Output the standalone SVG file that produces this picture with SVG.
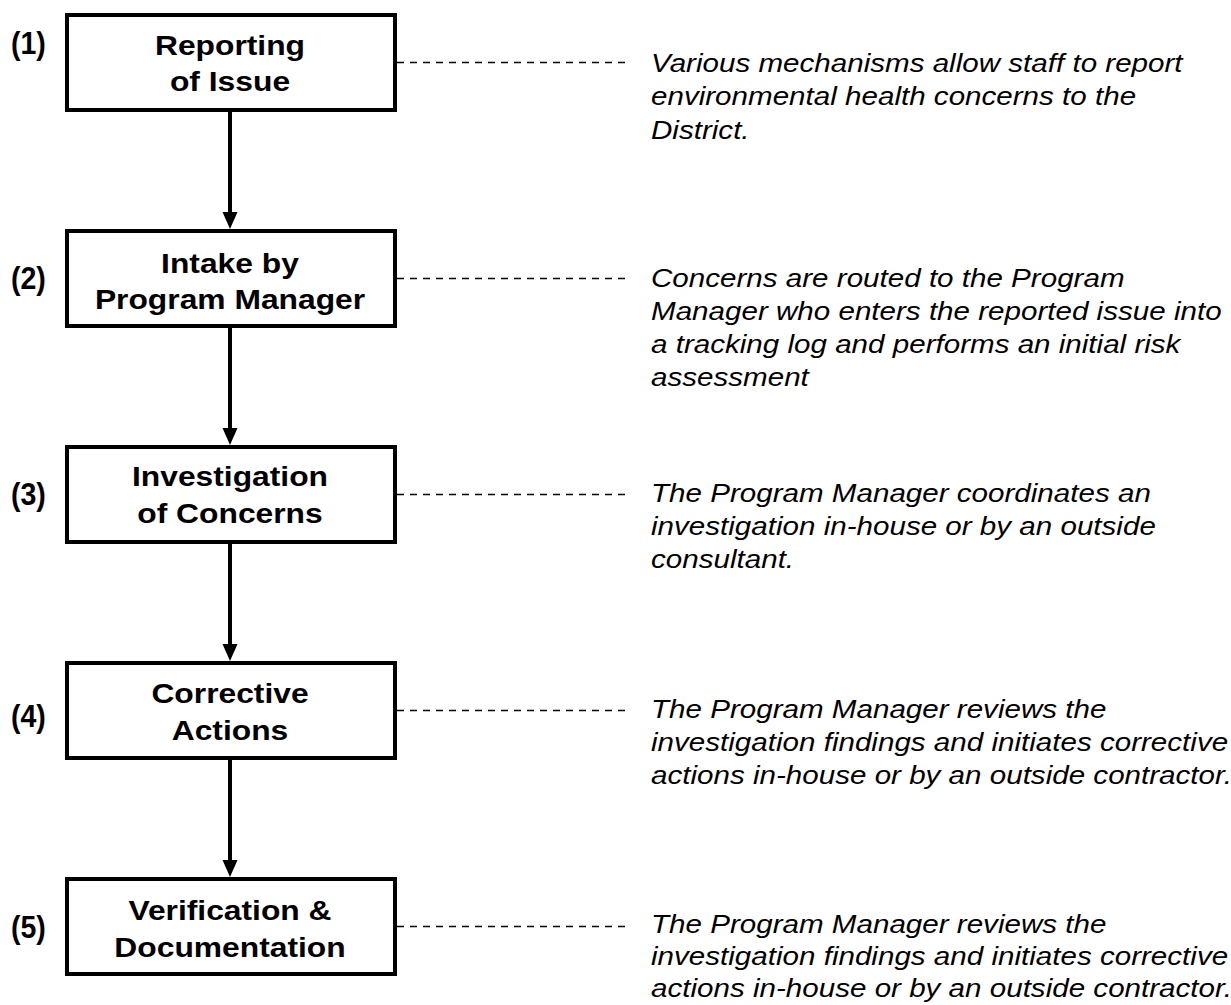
<svg xmlns="http://www.w3.org/2000/svg" width="1231" height="1005" viewBox="0 0 1231 1005">
<style>
.box{fill:#fff;stroke:#000;stroke-width:4}
.bt{font-family:"Liberation Sans",Arial,sans-serif;font-weight:bold;font-size:31.8px;fill:#000;text-anchor:middle}
.lb{font-family:"Liberation Sans",Arial,sans-serif;font-weight:bold;font-size:28.5px;fill:#000}
.ds{font-family:"Liberation Sans",Arial,sans-serif;font-style:italic;font-size:29.6px;fill:#000}
.dash{stroke:#000;stroke-width:1.3;stroke-dasharray:7 6;fill:none}
.arr{stroke:#000;stroke-width:4;fill:none}
</style>
<rect width="1231" height="1005" fill="#fff"/>
<g id="connectors">
<line class="arr" x1="230" y1="112" x2="230" y2="214"/>
<polygon points="222.5,212 237.5,212 230,229"/>
<line class="arr" x1="230" y1="328" x2="230" y2="430"/>
<polygon points="222.5,428 237.5,428 230,445"/>
<line class="arr" x1="230" y1="544" x2="230" y2="646"/>
<polygon points="222.5,644 237.5,644 230,661"/>
<line class="arr" x1="230" y1="760" x2="230" y2="862"/>
<polygon points="222.5,860 237.5,860 230,877"/>
<line class="dash" x1="397" y1="62.5" x2="630" y2="62.5"/>
<line class="dash" x1="397" y1="278.5" x2="630" y2="278.5"/>
<line class="dash" x1="397" y1="494.5" x2="630" y2="494.5"/>
<line class="dash" x1="397" y1="710.5" x2="630" y2="710.5"/>
<line class="dash" x1="397" y1="926.5" x2="630" y2="926.5"/>
</g>
<g id="node1">
<rect class="box" x="67" y="15" width="328" height="95"/>
<text class="bt" transform="translate(230,54.5) scale(1,0.86)">Reporting</text>
<text class="bt" transform="translate(230,90.5) scale(1,0.86)">of Issue</text>
<text class="lb" transform="translate(11,53.5) scale(1,1.08)">(1)</text>
<text class="ds" transform="translate(651,72) scale(1,0.9)">Various mechanisms allow staff to report</text>
<text class="ds" transform="translate(651,105) scale(1,0.9)">environmental health concerns to the</text>
<text class="ds" transform="translate(651,139) scale(1,0.9)">District.</text>
</g>
<g id="node2">
<rect class="box" x="67" y="231" width="328" height="95"/>
<text class="bt" transform="translate(230,272.5) scale(1,0.86)">Intake by</text>
<text class="bt" transform="translate(230,308.5) scale(1,0.86)">Program Manager</text>
<text class="lb" transform="translate(11,288.5) scale(1,1.08)">(2)</text>
<text class="ds" transform="translate(651,287) scale(1,0.9)">Concerns are routed to the Program</text>
<text class="ds" transform="translate(651,320) scale(1,0.9)">Manager who enters the reported issue into</text>
<text class="ds" transform="translate(651,353) scale(1,0.9)">a tracking log and performs an initial risk</text>
<text class="ds" transform="translate(651,386) scale(1,0.9)">assessment</text>
</g>
<g id="node3">
<rect class="box" x="67" y="447" width="328" height="95"/>
<text class="bt" transform="translate(230,486) scale(1,0.86)">Investigation</text>
<text class="bt" transform="translate(230,522.5) scale(1,0.86)">of Concerns</text>
<text class="lb" transform="translate(11,505) scale(1,1.08)">(3)</text>
<text class="ds" transform="translate(651,502) scale(1,0.9)">The Program Manager coordinates an</text>
<text class="ds" transform="translate(651,535) scale(1,0.9)">investigation in-house or by an outside</text>
<text class="ds" transform="translate(651,568) scale(1,0.9)">consultant.</text>
</g>
<g id="node4">
<rect class="box" x="67" y="663" width="328" height="95"/>
<text class="bt" transform="translate(230,703) scale(1,0.86)">Corrective</text>
<text class="bt" transform="translate(230,739.5) scale(1,0.86)">Actions</text>
<text class="lb" transform="translate(11,727) scale(1,1.08)">(4)</text>
<text class="ds" transform="translate(651,718) scale(1,0.9)">The Program Manager reviews the</text>
<text class="ds" transform="translate(651,751) scale(1,0.9)">investigation findings and initiates corrective</text>
<text class="ds" transform="translate(651,784) scale(1,0.9)">actions in-house or by an outside contractor.</text>
</g>
<g id="node5">
<rect class="box" x="67" y="879" width="328" height="95"/>
<text class="bt" transform="translate(230,920) scale(1,0.86)">Verification &amp;</text>
<text class="bt" transform="translate(230,956.5) scale(1,0.86)">Documentation</text>
<text class="lb" transform="translate(11,937.5) scale(1,1.08)">(5)</text>
<text class="ds" transform="translate(651,933) scale(1,0.9)">The Program Manager reviews the</text>
<text class="ds" transform="translate(651,965) scale(1,0.9)">investigation findings and initiates corrective</text>
<text class="ds" transform="translate(651,997) scale(1,0.9)">actions in-house or by an outside contractor.</text>
</g>
</svg>
